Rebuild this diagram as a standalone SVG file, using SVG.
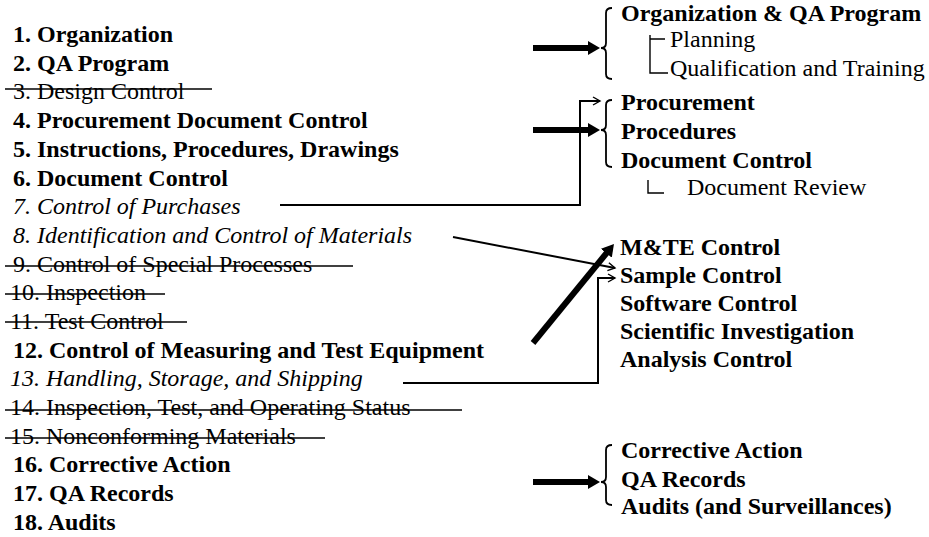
<svg xmlns="http://www.w3.org/2000/svg" width="929" height="537" viewBox="0 0 929 537">
<style>
text{font-family:'Liberation Serif','Times New Roman',serif;font-size:24px;fill:#000}
.b{font-weight:bold}
.i{font-style:italic}
.strike{stroke:#000;stroke-width:1.6;fill:none}
.thin{stroke:#000;stroke-width:2;fill:none}
.thick{stroke:#000;stroke-width:6;fill:none}
.brace{stroke:#000;stroke-width:1.8;fill:none}
.tree{stroke:#000;stroke-width:1.4;fill:none}
</style>
<defs>
<marker id="hb" markerUnits="userSpaceOnUse" viewBox="0 0 12 14" refX="1" refY="7" markerWidth="12" markerHeight="14" orient="auto">
<path d="M0,0 L12,7 L0,14 z" fill="#000"/>
</marker>
<marker id="ht" markerUnits="userSpaceOnUse" viewBox="-1 -1 10 10" refX="7" refY="4" markerWidth="10" markerHeight="10" orient="auto">
<path d="M0,0 L7,4 L0,8" fill="none" stroke="#000" stroke-width="1.4"/>
</marker>
</defs>

<g id="left-list">
<g id="item1"><text class="b" x="13" y="42">1. Organization</text></g>
<g id="item2"><text class="b" x="13" y="71">2. QA Program</text></g>
<g id="item3"><text x="13" y="99">3. Design Control</text><line class="strike" x1="5" y1="89" x2="212" y2="89"/></g>
<g id="item4"><text class="b" x="13" y="128">4. Procurement Document Control</text></g>
<g id="item5"><text class="b" x="13" y="157">5. Instructions, Procedures, Drawings</text></g>
<g id="item6"><text class="b" x="13" y="186">6. Document Control</text></g>
<g id="item7"><text class="i" x="13" y="214">7. Control of Purchases</text></g>
<g id="item8"><text class="i" x="13" y="243">8. Identification and Control of Materials</text></g>
<g id="item9"><text x="13" y="272">9. Control of Special Processes</text><line class="strike" x1="5" y1="266" x2="353" y2="266"/></g>
<g id="item10"><text x="10" y="300">10. Inspection</text><line class="strike" x1="5" y1="294" x2="165" y2="294"/></g>
<g id="item11"><text x="10" y="329">11. Test Control</text><line class="strike" x1="5" y1="322" x2="187" y2="322"/></g>
<g id="item12"><text class="b" x="13" y="358">12. Control of Measuring and Test Equipment</text></g>
<g id="item13"><text class="i" x="10" y="386">13. Handling, Storage, and Shipping</text></g>
<g id="item14"><text x="10" y="415">14. Inspection, Test, and Operating Status</text><line class="strike" x1="5" y1="410" x2="462" y2="410"/></g>
<g id="item15"><text x="10" y="444">15. Nonconforming Materials</text><line class="strike" x1="5" y1="438" x2="325" y2="438"/></g>
<g id="item16"><text class="b" x="13" y="472">16. Corrective Action</text></g>
<g id="item17"><text class="b" x="13" y="501">17. QA Records</text></g>
<g id="item18"><text class="b" x="13" y="530">18. Audits</text></g>
</g>

<g id="group-org">
<path class="brace" d="M612,8 Q606,8 606,13 L606,43 Q606,48 601,48 Q606,48 606,53 L606,74 Q606,79 612,79"/>
<text class="b" x="621" y="21">Organization &amp; QA Program</text>
<path class="tree" d="M650,35 V73 H668 M650,39 H665"/>
<text x="670" y="47">Planning</text>
<text x="670" y="76">Qualification and Training</text>
</g>

<g id="group-proc">
<path class="brace" d="M612,100 Q606,100 606,105 L606,125 Q606,130 601,130 Q606,130 606,135 L606,162 Q606,167 612,167"/>
<text class="b" x="621" y="110">Procurement</text>
<text class="b" x="621" y="139">Procedures</text>
<text class="b" x="621" y="168">Document Control</text>
<path class="tree" d="M648,180 V193 H664"/>
<text x="687" y="195">Document Review</text>
</g>

<g id="group-control">
<text class="b" x="620" y="255">M&amp;TE Control</text>
<text class="b" x="620" y="283">Sample Control</text>
<text class="b" x="620" y="311">Software Control</text>
<text class="b" x="620" y="339">Scientific Investigation</text>
<text class="b" x="620" y="367">Analysis Control</text>
</g>

<g id="group-ca">
<path class="brace" d="M612,445 Q606,445 606,450 L606,477 Q606,482 601,482 Q606,482 606,487 L606,500 Q606,505 612,505"/>
<text class="b" x="621" y="458">Corrective Action</text>
<text class="b" x="621" y="487">QA Records</text>
<text class="b" x="621" y="514">Audits (and Surveillances)</text>
</g>

<g id="connectors">
<line class="thick" x1="533" y1="48" x2="589" y2="48" marker-end="url(#hb)"/>
<line class="thick" x1="533" y1="130" x2="589" y2="130" marker-end="url(#hb)"/>
<line class="thick" x1="533" y1="482" x2="589" y2="482" marker-end="url(#hb)"/>
<line class="thick" x1="533" y1="343" x2="607" y2="252.5" marker-end="url(#hb)"/>
<polyline class="thin" points="280,205 580,205 580,101 600,101" marker-end="url(#ht)"/>
<line class="thin" x1="453" y1="237" x2="615" y2="268" marker-end="url(#ht)"/>
<polyline class="thin" points="403,383 598,383 598,278 615,278" marker-end="url(#ht)"/>
</g>
</svg>
